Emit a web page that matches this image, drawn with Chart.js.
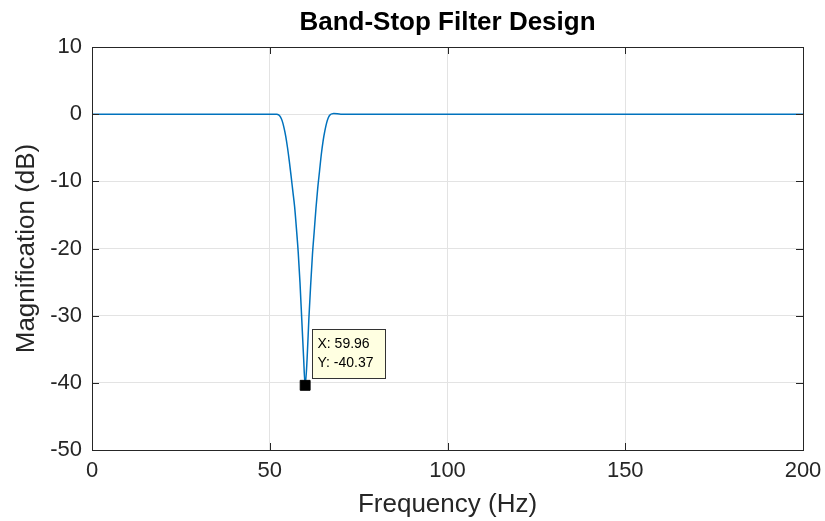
<!DOCTYPE html>
<html>
<head>
<meta charset="utf-8">
<script src="https://cdn.jsdelivr.net/npm/chart.js@4.4.1/dist/chart.umd.min.js"></script>
<style>
  html, body { margin: 0; padding: 0; background: #fff; }
  #wrap { width: 825px; height: 521px; position: relative; }
</style>
</head>
<body>
<div id="wrap"><canvas id="filterChart"></canvas></div>
<script>
// Frequency response (Hz, dB)
const freqs = [0, 50, 52, 52.5, 53, 53.5, 54, 54.5, 55, 55.5, 56, 56.5, 57, 57.5, 58, 58.5, 59, 59.5, 59.96,
               60.5, 61, 61.5, 62, 62.5, 63, 63.5, 64, 64.5, 65, 65.5, 66, 66.5, 67, 67.5, 68, 70, 200];
const magnitude = [0, 0, 0, -0.1, -0.4, -1, -2, -3.3, -5, -7, -9.2, -11.5, -13.8, -17, -20.5, -25, -30.5, -36, -40.37,
                   -36.5, -30.5, -25.5, -21, -17.5, -14, -11, -8.5, -6, -4, -2.5, -1.3, -0.5, -0.1, 0.05, 0.1, 0, 0];

// Data tip
const tipX = [59.96];
const tipY = [-40.37];

const xTicks = [0, 50, 100, 150, 200];
const yTicks = [10, 0, -10, -20, -30, -40, -50];

const FONT = '"Liberation Sans", Arial, Helvetica, sans-serif';

// Title, inward tick marks and the data tip box
const matlabPlugin = {
    id: 'matlabStyle',
    afterDraw(chart) {
        const ctx = chart.ctx;
        const a = chart.chartArea;
        const xs = chart.scales.x, ys = chart.scales.y;

        ctx.save();
        // inward ticks
        ctx.strokeStyle = '#262626';
        ctx.lineWidth = 1;
        ctx.beginPath();
        xTicks.forEach(v => {
            const px = Math.round(xs.getPixelForValue(v)) + 0.5;
            ctx.moveTo(px, a.bottom); ctx.lineTo(px, a.bottom - 7);
            ctx.moveTo(px, a.top); ctx.lineTo(px, a.top + 7);
        });
        yTicks.forEach(v => {
            const py = Math.round(ys.getPixelForValue(v)) + 0.5;
            ctx.moveTo(a.left, py); ctx.lineTo(a.left + 7, py);
            ctx.moveTo(a.right, py); ctx.lineTo(a.right - 7, py);
        });
        ctx.stroke();
        ctx.strokeRect(Math.round(a.left) + 0.5, Math.round(a.top) + 0.5,
                       Math.round(a.right - a.left), Math.round(a.bottom - a.top));

        // title
        ctx.fillStyle = '#000';
        ctx.font = 'bold 26px ' + FONT;
        ctx.textAlign = 'center';
        ctx.textBaseline = 'middle';
        ctx.fillText('Band-Stop Filter Design', (a.left + a.right) / 2, 23);

        // data tip box
        const mx = xs.getPixelForValue(tipX[0]);
        const my = ys.getPixelForValue(tipY[0]);
        const bx = Math.round(mx + 7) + 0.5, by = Math.round(my - 56) + 0.5;
        ctx.fillStyle = '#ffffe1';
        ctx.fillRect(bx, by, 73, 49);
        ctx.strokeStyle = '#333';
        ctx.strokeRect(bx, by, 73, 49);
        ctx.fillStyle = '#000';
        ctx.font = '14px ' + FONT;
        ctx.textAlign = 'left';
        ctx.fillText('X: ' + tipX[0].toFixed(2), bx + 5, by + 15);
        ctx.fillText('Y: ' + tipY[0].toFixed(2), bx + 5, by + 34);
        ctx.restore();
    }
};

new Chart(document.getElementById('filterChart').getContext('2d'), {
    type: 'line',
    data: {
        datasets: [{
            data: freqs.map((f, i) => ({ x: f, y: magnitude[i] })),
            borderColor: '#0072BD',
            borderWidth: 1.5,
            pointRadius: 0,
            fill: false,
            cubicInterpolationMode: 'monotone',
            order: 2
        }, {
            data: tipX.map((f, i) => ({ x: f, y: tipY[i] })),
            showLine: false,
            pointStyle: 'rect',
            pointRadius: 7,
            backgroundColor: '#000',
            borderColor: '#000',
            order: 1
        }]
    },
    options: {
        responsive: true,
        maintainAspectRatio: false,
        animation: false,
        layout: { padding: { top: 47, right: 22, left: 0, bottom: 0 } },
        plugins: {
            legend: { display: false },
            tooltip: { enabled: false }
        },
        scales: {
            x: {
                type: 'linear',
                min: 0, max: 200,
                afterBuildTicks: s => { s.ticks = xTicks.map(v => ({ value: v })); },
                afterFit: s => { s.height = 71; s.paddingLeft = 0; s.paddingRight = 0; },
                grid: { color: '#e3e3e3', drawTicks: false },
                border: { display: false },
                ticks: { color: '#262626', font: { family: FONT, size: 22 }, padding: 8, maxRotation: 0 },
                title: { display: true, text: 'Frequency (Hz)', color: '#262626',
                         font: { family: FONT, size: 26 }, padding: { top: 0, bottom: 1 } }
            },
            y: {
                min: -50, max: 10,
                afterBuildTicks: s => { s.ticks = yTicks.map(v => ({ value: v })); },
                afterFit: s => { s.width = 92; s.paddingTop = 0; s.paddingBottom = 0; },
                grid: { color: '#e3e3e3', drawTicks: false },
                border: { display: false },
                ticks: { color: '#262626', font: { family: FONT, size: 22 }, padding: 10 },
                title: { display: true, text: 'Magnification (dB)', color: '#262626',
                         font: { family: FONT, size: 26 }, padding: { top: 11, bottom: 0 } }
            }
        }
    },
    plugins: [matlabPlugin]
});
</script>
</body>
</html>
